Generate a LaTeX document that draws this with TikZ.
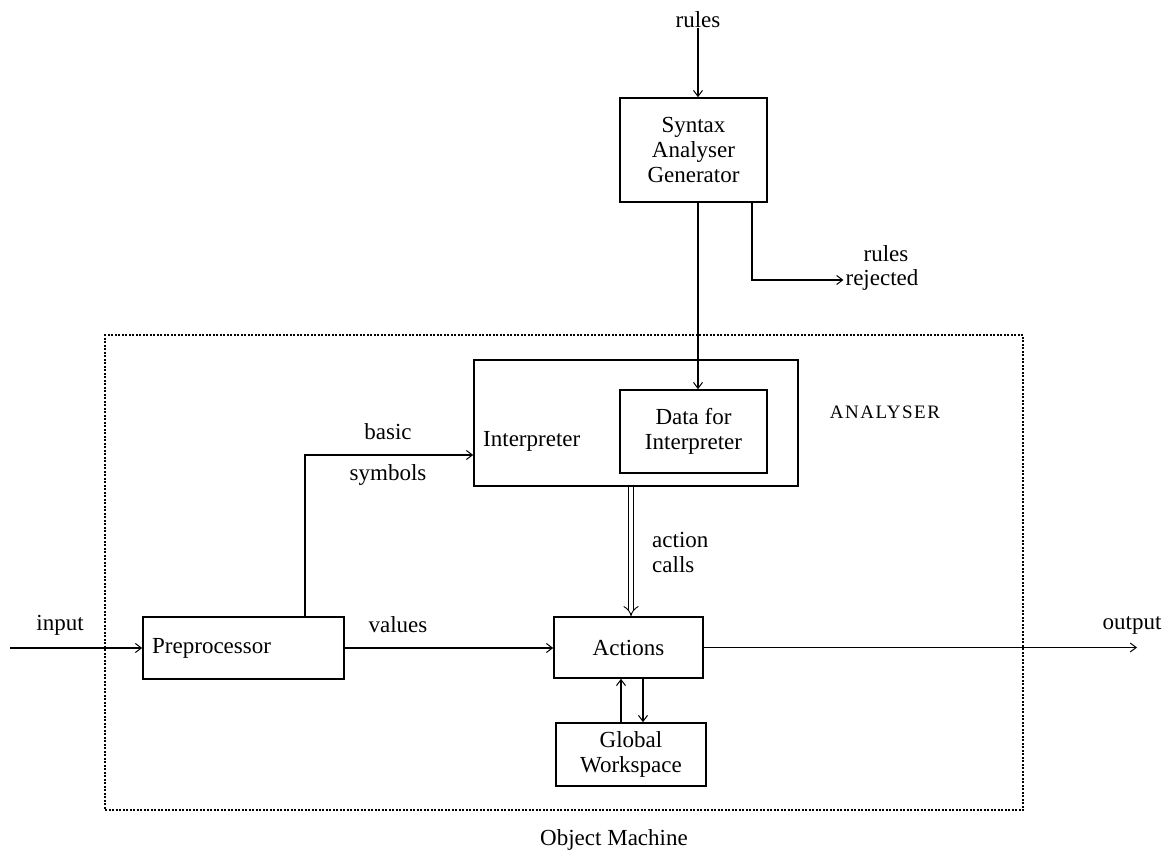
\documentclass[tikz,border=0pt]{standalone}
\usepackage{fontspec}
\setmainfont{Liberation Serif}
\usetikzlibrary{arrows.meta}
\newcommand{\dfont}{\fontsize{23}{25}\selectfont}
\begin{document}
\begin{tikzpicture}[x=1pt,y=-1pt,
  every node/.style={font=\dfont, inner sep=0pt},
  box/.style={draw, line width=1.6pt, minimum width=#1},
  lbl/.style={},
  conn/.style={line width=1.1pt, -{Straight Barb[length=6pt,width=9pt,line width=1pt]}},
  frame/.style={draw, line width=1.3pt, dash pattern=on 2pt off 1.5pt}
]
\useasboundingbox (0,0) rectangle (1172,849);

% dotted boundary
\node[frame, minimum width=918pt, minimum height=475pt] (frm) at (564,572.5) {};

% boxes
\node[box=147pt, minimum height=104pt, align=center] (syn) at (693.5,150) {Syntax\\Analyser\\Generator};
\node[box=324pt, minimum height=126pt] (interp) at (636,423) {};
\node[box=147pt, minimum height=83pt, align=center, fill=white] (data) at (693.5,431.5) {Data for\\Interpreter};
\node[box=201pt, minimum height=62pt] (pre) at (243.5,648) {};
\node[box=149pt, minimum height=61pt] (act) at (628.5,647.5) {Actions};
\node[box=150pt, minimum height=63pt, align=center] (gw) at (631,754.5) {Global\\Workspace};

% labels
\node[lbl] (rules) at (698,20) {rules};
\node[lbl] (rjr) at (886,254) {rules};
\node[lbl] (rjd) at (882,280) {rejected};
\node[lbl, anchor=west] (interplbl) at (483,441) {Interpreter};
\node[lbl, anchor=west] (prelbl) at (152,648) {Preprocessor};
\node[lbl] (anl) at (885,412) {\addfontfeature{LetterSpace=8}\fontsize{19}{22}\selectfont ANALYSER};
\node[lbl] (basic) at (388,432) {basic};
\node[lbl] (symb) at (388,475) {symbols};
\node[lbl] (vals) at (398,625) {values};
\node[lbl, anchor=west, align=left] (ac) at (652,552) {action\\calls};
\node[lbl] (inp) at (60,625) {input};
\node[lbl] (outp) at (1132,625) {output};
\node[lbl] (om) at (614,840) {Object Machine};

\coordinate (inS) at (10,648);
\coordinate (outE) at (1137,647.5);

% connectors
\draw[conn] (rules.south) -- (rules.south |- syn.north);
\draw[conn] (syn.south -| rules) -- (data.north -| rules);
\draw[conn] ([xshift=58.5pt]syn.south) |- ([xshift=-2pt]rjd.west);
\draw[conn] ([xshift=61.5pt]pre.north) |- ([yshift=-32pt]interp.west);
\draw[conn] (pre.east) -- (pre.east -| act.west);
\draw[conn] (inS) -- (pre.west);
\draw[conn] (act.east) -- (outE);
\draw[line width=0.9pt, double distance=4.5pt, -{Implies}] ([xshift=2.5pt]act.north |- interp.south) -- ([xshift=2.5pt]act.north);
\draw[conn] ([xshift=-7.5pt]act.south |- gw.north) -- ([xshift=-7.5pt]act.south);
\draw[conn] ([xshift=14.5pt]act.south) -- ([xshift=14.5pt]act.south |- gw.north);
\end{tikzpicture}
\end{document}
